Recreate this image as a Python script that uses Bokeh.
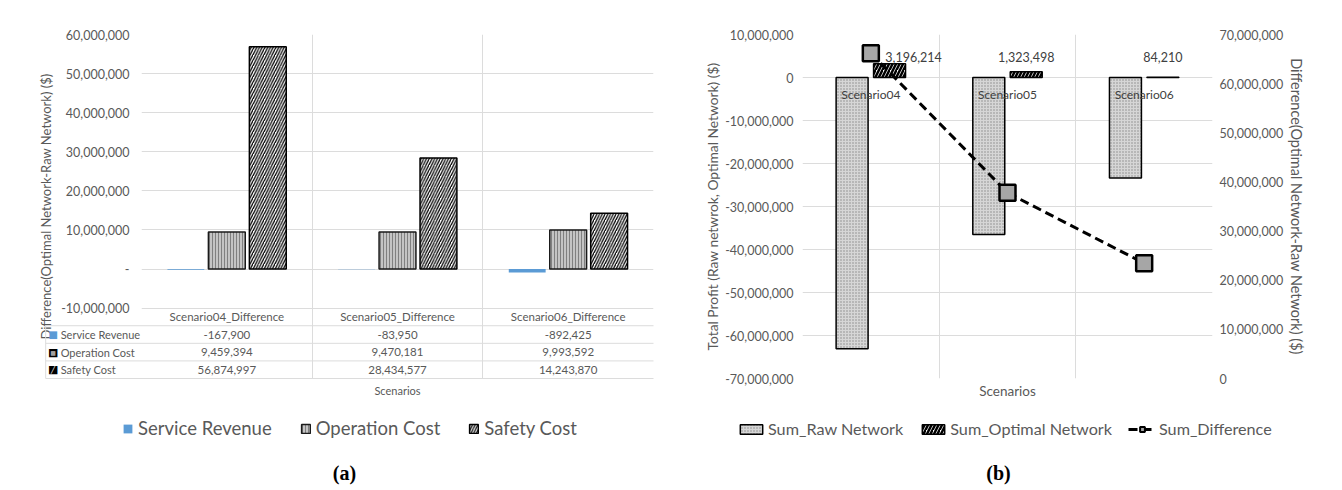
from bokeh.plotting import figure
from bokeh.layouts import row, column
from bokeh.models import (Range1d, FixedTicker, NumeralTickFormatter, LinearAxis,
                          Legend, LegendItem, ColumnDataSource)
from bokeh.transform import dodge
from bokeh.core.properties import value
from bokeh.embed import file_html
from bokeh.resources import INLINE

# ---------------- data: panel (a) ----------------
a_categories = ["Scenario04_Difference", "Scenario05_Difference", "Scenario06_Difference"]
a_series = ["Service Revenue", "Operation Cost", "Safety Cost"]
service_revenue = [-167900, -83950, -892425]
operation_cost = [9459394, 9470181, 9993592]
safety_cost = [56874997, 28434577, 14243870]
a_yticks = [-10000000, 0, 10000000, 20000000, 30000000, 40000000, 50000000, 60000000]

# ---------------- data: panel (b) ----------------
b_categories = ["Scenario04", "Scenario05", "Scenario06"]
b_series = ["Sum_Raw Network", "Sum_Optimal Network", "Sum_Difference"]
sum_raw = [-63100000, -36500000, -23400000]
sum_optimal = [3196214, 1323498, 84210]
sum_difference = [66200000, 37800000, 23450000]
b_left_ticks = [-70000000, -60000000, -50000000, -40000000, -30000000, -20000000,
                -10000000, 0, 10000000]
b_right_ticks = [0, 10000000, 20000000, 30000000, 40000000, 50000000, 60000000, 70000000]

captions = ["(a)", "(b)"]

# ---------------- styles ----------------
FONT = "Lato"
GREY = "#595959"
DARK = "#404040"
GRID = "#dcdcdc"
BLUE = "#5b9bd5"

SR_STYLE = dict(fill_color=BLUE, line_color=None)
OC_STYLE = dict(fill_color="#c4c4c4", hatch_pattern="|", hatch_color="#808080",
                hatch_scale=3, hatch_weight=1, line_color="#1a1a1a", line_width=1.5)
SC_STYLE = dict(fill_color="white", hatch_pattern="/", hatch_color="black",
                hatch_scale=5.5, hatch_weight=1.3, line_color="black", line_width=1.5)
RAW_STYLE = dict(fill_color="#d6d6d6", hatch_pattern=".", hatch_color="#8a8a8a",
                 hatch_scale=3, hatch_weight=1, line_color="black", line_width=1.5)
OPT_STYLE = dict(fill_color="white", hatch_pattern="/", hatch_color="black",
                 hatch_scale=7, hatch_weight=2.5, line_color="black", line_width=1.5)
LINE_STYLE = dict(line_color="black", line_width=3, line_dash="9 5")
MARK_STYLE = dict(marker="square", size=16, fill_color="#a6a6a6", line_color="black",
                  line_width=2.5)


def style_common(p):
    p.outline_line_color = None
    p.background_fill_color = "white"
    p.border_fill_color = "white"


def style_axis(ax, label, standoff, lstandoff, label_size, tick_size="12.5px"):
    ax.axis_line_color = None
    ax.major_tick_line_color = None
    ax.minor_tick_line_color = None
    ax.major_tick_out = 0
    ax.major_tick_in = 0
    ax.minor_tick_out = 0
    ax.minor_tick_in = 0
    ax.major_label_standoff = standoff
    ax.major_label_text_font = FONT
    ax.major_label_text_font_size = tick_size
    ax.major_label_text_color = GREY
    ax.axis_label = label
    ax.axis_label_text_font = FONT
    ax.axis_label_text_font_size = label_size
    ax.axis_label_text_font_style = "normal"
    ax.axis_label_text_color = GREY
    ax.axis_label_standoff = lstandoff


# =====================================================================
# Panel (a)
# =====================================================================
n_a = len(a_categories)
frame_h_a = 352          # px of frame (plot area + data table)
row_h = 18               # px per table row
pa = figure(width=680, height=405, x_range=Range1d(0, n_a), y_range=Range1d(-28e6, 60e6),
            output_backend="svg", toolbar_location=None,
            min_border_left=141, min_border_right=27, min_border_top=31, min_border_bottom=22)
style_common(pa)
pa.extra_y_ranges = {"tbl": Range1d(0, frame_h_a / row_h)}

src_a = ColumnDataSource(dict(
    x=[i + 0.5 for i in range(n_a)], cat=a_categories,
    sr=service_revenue, oc=operation_cost, sc=safety_cost,
    sr_t=[f"{v:,}" for v in service_revenue],
    oc_t=[f"{v:,}" for v in operation_cost],
    sc_t=[f"{v:,}" for v in safety_cost],
))

yax = pa.yaxis[0]
yax.ticker = FixedTicker(ticks=a_yticks)
yax.formatter = NumeralTickFormatter(format="0,0")
yax.major_label_overrides = {0: "-"}
yax.bounds = (-12.5e6, 60e6)
style_axis(yax, "Difference(Optimal Network-Raw Network) ($)", 12, 4, "13px")

xax = pa.xaxis[0]
xax.ticker = FixedTicker(ticks=list(range(n_a + 1)))
style_axis(xax, "Scenarios", 0, 5, "11px", tick_size="0px")

pa.xgrid.grid_line_color = GRID
pa.ygrid.grid_line_color = GRID

WA, DA = 0.216, 0.24
r_sr = pa.vbar(x=dodge("x", -DA, range=pa.x_range), top="sr", width=WA, source=src_a, **SR_STYLE)
r_oc = pa.vbar(x=dodge("x", 0, range=pa.x_range), top="oc", width=WA, source=src_a, **OC_STYLE)
r_sc = pa.vbar(x=dodge("x", DA, range=pa.x_range), top="sc", width=WA, source=src_a, **SC_STYLE)

# data table (rows in "tbl" range units: header 3-4, SR 2-3, OC 1-2, SC 0-1)
tbl_left = -96 / 171
pa.segment(x0=[tbl_left] * 4, y0=[0, 1, 2, 3], x1=[n_a] * 4, y1=[0, 1, 2, 3],
           y_range_name="tbl", line_color=GRID, line_width=1, level="overlay")
pa.segment(x0=[tbl_left], y0=[0], x1=[tbl_left], y1=[3],
           y_range_name="tbl", line_color=GRID, line_width=1, level="overlay")
tkw = dict(text_font=value(FONT), text_font_size="11.5px", text_color=GREY,
           text_align="center", text_baseline="middle", y_range_name="tbl", source=src_a)
pa.text(x="x", y=3.5, text="cat", **tkw)
pa.text(x="x", y=2.5, text="sr_t", **tkw)
pa.text(x="x", y=1.5, text="oc_t", **tkw)
pa.text(x="x", y=0.5, text="sc_t", **tkw)
pa.text(x=[tbl_left + 15 / 171] * 3, y=[2.5, 1.5, 0.5], text=a_series,
        text_font=value(FONT), text_font_size="11px", text_color=GREY,
        text_align="left", text_baseline="middle", y_range_name="tbl", level="overlay")
ix = tbl_left + 7.5 / 171
ikw = dict(text_font=value("DejaVu Sans"), text_align="center", text_baseline="middle",
           y_range_name="tbl", level="overlay")
pa.text(x=[ix], y=[2.5], text=["\u25a0"], text_font_size="10px", text_color=BLUE, **ikw)
pa.text(x=[ix, ix], y=[1.5, 0.5], text=["\u25a0", "\u25a0"], text_font_size="11px",
        text_color="black", **ikw)
pa.text(x=[ix], y=[1.5], text=["\u25a0"], text_font_size="6px", text_color="#a0a0a0", **ikw)
pa.text(x=[ix], y=[0.5], text=["\u2571"], text_font_size="7px", text_color="white", **ikw)

# =====================================================================
# Panel (b)
# =====================================================================
n_b = len(b_categories)
pb = figure(width=660, height=405, x_range=Range1d(0, n_b), y_range=Range1d(-70e6, 10e6),
            output_backend="svg", toolbar_location=None,
            min_border_left=122, min_border_right=128, min_border_top=34, min_border_bottom=27)
style_common(pb)
pb.extra_y_ranges = {"diff": Range1d(0, 70e6)}

src_b = ColumnDataSource(dict(
    x=[i + 0.5 for i in range(n_b)], cat=b_categories,
    raw=sum_raw, opt=sum_optimal, diff=sum_difference,
    opt_t=[f"{v:,}" for v in sum_optimal],
    lbl_dx=[24, 0, 0],
))

ly = pb.yaxis[0]
ly.ticker = FixedTicker(ticks=b_left_ticks)
ly.formatter = NumeralTickFormatter(format="0,0")
style_axis(ly, "Total Profit (Raw netwrok, Optimal Network) ($)", 9, 1, "13.8px")
ry = LinearAxis(y_range_name="diff", ticker=FixedTicker(ticks=b_right_ticks),
                formatter=NumeralTickFormatter(format="0,0"))
style_axis(ry, "Difference(Optimal Network-Raw Network) ($)", 7, 2, "14.5px")
pb.add_layout(ry, "right")

bx = pb.xaxis[0]
bx.ticker = FixedTicker(ticks=list(range(n_b + 1)))
style_axis(bx, "Scenarios", 0, 4, "13.5px", tick_size="0px")

pb.xgrid.grid_line_color = GRID
pb.ygrid.grid_line_color = GRID

WB, DB = 0.234, 0.137
r_raw = pb.vbar(x=dodge("x", -DB, range=pb.x_range), top="raw", width=WB, source=src_b, **RAW_STYLE)
r_opt = pb.vbar(x=dodge("x", DB, range=pb.x_range), top="opt", width=WB, source=src_b, **OPT_STYLE)
pb.line(x="x", y="diff", y_range_name="diff", source=src_b, **LINE_STYLE)
pb.scatter(x="x", y="diff", y_range_name="diff", source=src_b, **MARK_STYLE)

pb.text(x=dodge("x", DB, range=pb.x_range), y=0, text="opt_t", source=src_b,
        x_offset="lbl_dx", y_offset=-21,
        text_font=value(FONT), text_font_size="12.5px", text_color=DARK,
        text_align="center", text_baseline="middle")
pb.text(x="x", y=0, text="cat", source=src_b, y_offset=17,
        text_font=value(FONT), text_font_size="12px", text_color=DARK,
        text_align="center", text_baseline="middle")

# =====================================================================
# Bottom strip: legends and captions (pixel-space strip below both panels)
# =====================================================================
SW, SH = 1340, 83
strip = figure(width=SW, height=SH, x_range=Range1d(0, SW), y_range=Range1d(SH, 0),
               x_axis_type=None, y_axis_type=None, output_backend="svg",
               toolbar_location=None, min_border=0)
style_common(strip)
strip.xgrid.visible = False
strip.ygrid.visible = False

# legend proxies: hidden renderers, so only their legend keys are drawn
e = dict(x=[0], top=[0], width=1, visible=False)
s_sr = strip.vbar(**e, **SR_STYLE)
s_oc = strip.vbar(**e, **OC_STYLE)
s_sc = strip.vbar(**e, **SC_STYLE)
s_raw = strip.vbar(**e, **RAW_STYLE)
s_opt = strip.vbar(**e, **OPT_STYLE)
s_line = strip.line(x=[0, 1], y=[0, 0], visible=False, **LINE_STYLE)
s_mark = strip.scatter(x=[0], y=[0], visible=False,
                       **{**MARK_STYLE, "size": 11, "line_width": 2})

leg_common = dict(orientation="horizontal", padding=0, margin=0, border_line_color=None,
                  background_fill_alpha=0, label_text_font=FONT, label_text_color=GREY,
                  inactive_fill_alpha=0)
leg_a = Legend(items=[LegendItem(label=a_series[0], renderers=[s_sr]),
                      LegendItem(label=a_series[1], renderers=[s_oc]),
                      LegendItem(label=a_series[2], renderers=[s_sc])],
               location=(122, 49), glyph_width=11, glyph_height=11, label_standoff=5,
               spacing=28, label_text_font_size="18.5px", **leg_common)
leg_b = Legend(items=[LegendItem(label=b_series[0], renderers=[s_raw]),
                      LegendItem(label=b_series[1], renderers=[s_opt]),
                      LegendItem(label=b_series[2], renderers=[s_line, s_mark])],
               location=(737, 50), glyph_width=28, glyph_height=12, label_standoff=3,
               spacing=16, label_text_font_size="16.2px", **leg_common)
strip.add_layout(leg_a)
strip.add_layout(leg_b)

strip.text(x=[344, 998], y=[67, 67], text=captions,
           text_font=value("Liberation Serif"), text_font_size="20px", text_font_style="bold",
           text_color="black", text_align="center", text_baseline="middle")

layout = column(row(pa, pb), strip)
open("out.html", "w").write(file_html(layout, INLINE))
